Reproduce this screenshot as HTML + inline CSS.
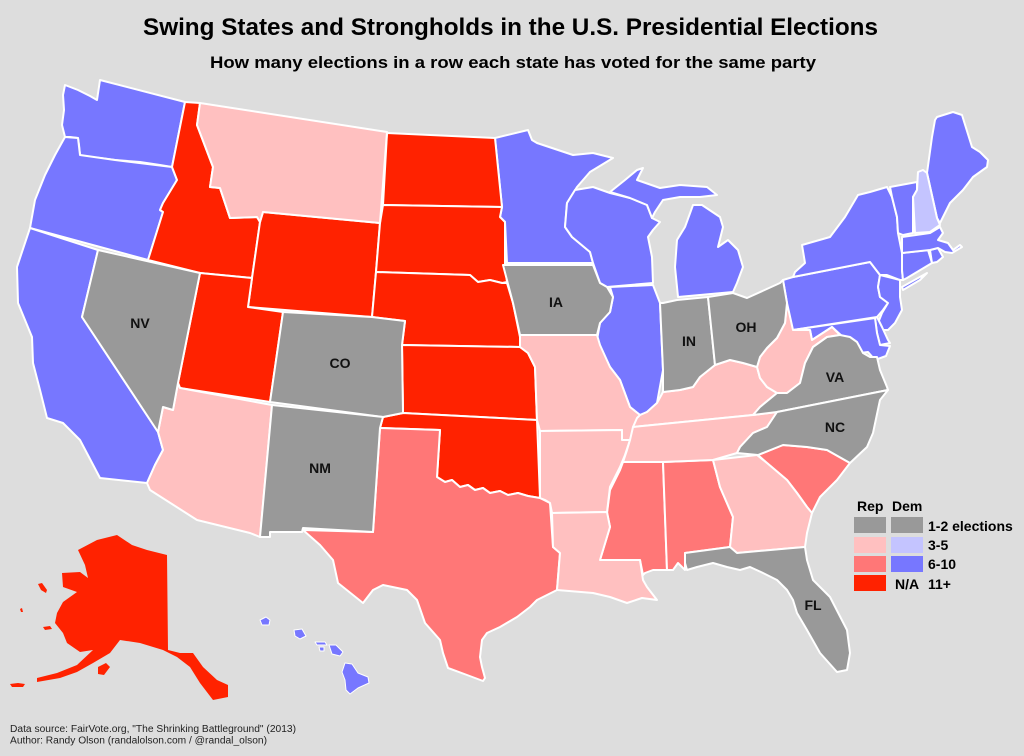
<!DOCTYPE html>
<html><head><meta charset="utf-8"><style>
html,body{margin:0;padding:0;background:#dddddd;}
svg{display:block;}
</style></head><body>
<svg width="1024" height="756" viewBox="0 0 1024 756" xmlns="http://www.w3.org/2000/svg">
<rect x="0" y="0" width="1024" height="756" fill="#dddddd"/>
<text x="143" y="35" font-family="Liberation Sans, Arial, sans-serif" font-weight="bold" font-size="24" textLength="735" lengthAdjust="spacingAndGlyphs" fill="#000">Swing States and Strongholds in the U.S. Presidential Elections</text>
<text x="210" y="68" font-family="Liberation Sans, Arial, sans-serif" font-weight="bold" font-size="17" textLength="606" lengthAdjust="spacingAndGlyphs" fill="#000">How many elections in a row each state has voted for the same party</text>

<g stroke="#ffffff" stroke-width="2" stroke-linejoin="round">
<!-- Blue Dem 6-10 -->
<g fill="#7777ff">
<polygon points="65,85 78,90 90,96 97,100 100,80 185,102 172,167 160,165 140,162 115,160 100,158 85,157 80,155 79,145 78,138 70,137 65,137 62,125 64,110 63,95"/>
<polygon points="65,137 78,138 80,155 115,160 172,167 177,180 163,203 160,210 163,212 148,260 30,228 35,200 45,175 55,155"/>
<polygon points="30,228 98,250 82,317 158,432 163,450 155,465 147,483 100,478 80,440 63,423 47,418 40,390 33,363 32,337 18,303 17,267"/>
<polygon points="495,138 528,130 532,140 537,143 573,155 593,153 613,158 590,172 577,187 567,203 565,227 572,237 590,252 593,263 507,263 505,222 500,217 502,207"/>
<polygon points="575,190 593,187 610,193 630,198 647,205 652,218 660,222 653,230 648,237 652,257 653,283 607,287 600,283 593,263 590,252 572,237 565,227 567,203"/>
<polygon points="610,192 625,180 637,170 643,168 637,180 660,188 680,185 707,187 717,195 700,197 680,197 663,200 655,212 652,218 647,205 630,198"/>
<polygon points="693,205 702,205 720,217 723,227 718,247 728,240 738,250 743,267 737,283 733,292 678,297 675,267 677,240 685,227"/>
<polygon points="610,287 653,285 660,303 663,370 657,403 647,412 640,415 630,407 620,380 610,367 597,340 600,323 610,312 613,297"/>
<polygon points="783,280 793,277 870,262 880,275 878,287 880,297 888,303 883,310 877,317 793,330 787,330 785,320 787,303"/>
<polygon points="887,187 892,197 897,217 898,233 900,243 902,253 902,270 903,280 900,280 887,275 880,275 870,262 793,277 795,272 805,263 802,245 830,237 845,217 858,195 870,192"/>
<polygon points="902,287 927,273 920,280 903,290"/>
<polygon points="880,275 900,280 900,297 902,310 895,323 888,330 880,330 878,323 882,313 888,303 880,297 878,287"/>
<polygon points="877,317 882,327 888,340 890,343 880,345 877,333 875,318"/>
<polygon points="793,330 875,318 877,333 880,345 890,346 886,356 875,360 868,352 860,353 853,343 843,337 832,327 812,340 810,330"/>
<polygon points="902,253 928,250 932,263 907,278 903,280 902,270"/>
<polygon points="930,250 938,248 943,257 937,262 932,263"/>
<polygon points="902,237 930,233 940,227 943,233 938,240 948,243 953,250 960,245 962,247 952,253 945,252 938,248 930,250 902,253"/>
<polygon points="890,187 917,182 917,190 913,197 913,233 903,235 898,233 897,217 892,197"/>
<polygon points="937,117 953,112 962,115 972,147 980,152 988,160 987,167 973,177 963,190 950,203 943,217 940,223 937,218 927,173 932,137 935,120"/>
<!-- Hawaii -->
<polygon points="260,620 266,617 270,620 269,625 262,625" stroke-width="1"/>
<polygon points="294,630 302,629 306,636 300,639 295,636" stroke-width="1"/>
<polygon points="315,642 325,642 327,645 317,645" stroke-width="1"/>
<polygon points="319,647 324,647 324,651 320,651" stroke-width="1"/>
<polygon points="329,645 336,645 343,652 340,656 332,654" stroke-width="1"/>
<polygon points="345,663 352,664 358,673 368,677 369,683 358,688 350,694 346,690 345,680 342,672" stroke-width="1"/>
</g>
<!-- NH light blue -->
<polygon fill="#c4c4ff" points="918,172 923,170 927,173 937,218 940,225 930,232 915,233 913,197 917,190"/>

<!-- Dark red 11+ -->
<g fill="#ff2200">
<polygon points="185,102 200,103 197,125 213,167 210,187 220,188 230,218 257,217 260,222 252,278 200,273 148,260 163,212 160,210 163,203 177,180 172,167"/>
<polygon points="263,212 380,223 376,272 372,317 248,307 252,278 260,222"/>
<polygon points="200,273 252,278 248,307 283,312 270,402 180,388 178,383"/>
<polygon points="387,133 495,138 502,207 383,205"/>
<polygon points="383,205 502,207 500,217 505,222 505,265 507,282 502,283 490,280 478,282 470,275 376,272 380,223"/>
<polygon points="376,272 470,275 478,282 490,280 502,283 507,283 513,303 520,337 520,347 402,345 405,321 372,317"/>
<polygon points="402,345 520,347 528,353 535,367 537,420 403,413"/>
<polygon points="383,417 403,413 537,420 540,498 528,496 518,493 508,495 500,491 490,493 483,488 475,490 468,485 460,487 452,480 445,482 437,477 440,430 380,428"/>
<!-- Alaska -->
<polygon points="78,550 97,540 117,535 132,545 147,550 167,555 168,650 180,653 193,653 203,667 217,680 228,685 228,697 213,700 200,683 190,667 177,657 163,650 140,643 120,640 110,653 93,663 77,672 60,678 37,682 37,678 57,673 77,665 93,650 80,652 67,643 63,633 55,623 57,613 63,602 77,592 63,587 62,573 80,572 88,578 85,565" stroke="none"/>
<polygon points="38,584 42,583 47,590 46,593 41,590" stroke="none"/>
<polygon points="10,684 18,683 25,684 23,687 12,687" stroke="none"/>
<polygon points="98,667 106,663 110,667 104,675 98,674" stroke="none"/>
<polygon points="43,627 50,626 52,629 45,630" stroke="none"/>
<polygon points="20,609 22,608 23,612 21,612" stroke="none"/>
</g>

<!-- Medium red 6-10 -->
<g fill="#ff7777">
<polygon points="380,428 440,430 437,477 445,482 452,480 460,487 468,485 475,490 483,488 490,493 500,491 508,495 518,493 528,496 540,498 550,503 553,547 560,553 557,590 537,600 530,607 517,617 500,627 487,633 482,640 480,657 482,667 485,678 483,681 467,675 448,668 443,653 440,640 425,623 417,600 407,590 383,585 373,590 363,603 338,583 333,560 320,545 303,530 373,532"/>
<polygon points="623,462 663,462 667,570 653,570 645,573 643,575 640,560 600,560 610,527 607,513 610,490 620,470"/>
<polygon points="663,462 713,460 720,487 733,517 730,547 685,553 685,570 678,563 673,570 667,570"/>
<polygon points="758,455 783,445 807,447 827,450 850,463 837,480 820,497 812,513 807,507 797,493 787,480 767,463"/>
</g>

<!-- Light pink 3-5 -->
<g fill="#ffc0c0">
<polygon points="200,103 387,132 380,223 263,212 260,222 257,217 230,218 220,188 210,187 213,167 197,125"/>
<polygon points="180,388 272,405 260,537 250,533 197,520 150,490 147,483 155,465 163,450 158,432 163,407 173,410 178,383"/>
<polygon points="520,335 597,335 600,345 610,367 620,380 630,407 640,415 636,428 630,440 622,440 622,430 540,431 537,420 535,367 528,353 520,347"/>
<polygon points="540,431 622,430 622,440 630,440 625,455 620,467 610,487 607,512 552,513 550,503 545,500 540,498"/>
<polygon points="552,513 607,512 610,527 600,560 640,560 643,580 647,587 657,600 642,598 627,603 610,597 593,593 557,590 560,553 553,547"/>
<polygon points="633,427 637,418 640,415 647,412 657,403 663,392 680,390 693,387 700,377 715,365 730,360 743,363 757,367 760,378 767,387 777,393 760,407 753,415"/>
<polygon points="633,427 753,415 777,412 767,427 753,433 740,447 737,453 713,460 663,462 623,462 627,450 630,440"/>
<polygon points="787,303 793,330 810,330 812,340 832,327 840,335 827,337 820,342 813,347 805,363 800,383 787,393 777,393 767,387 760,378 757,367 760,357 767,348 777,338 785,323"/>
<polygon points="713,460 757,455 767,463 787,480 797,493 807,507 812,513 807,533 805,547 793,548 737,553 730,547 733,517 720,487"/>
</g>

<!-- Gray swing -->
<g fill="#999999">
<polygon points="98,250 200,273 178,383 173,410 163,407 158,432 82,317"/>
<polygon points="283,312 372,317 405,321 402,345 403,413 383,417 270,402"/>
<polygon points="272,405 383,417 380,428 373,532 303,528 302,532 270,532 270,537 260,537"/>
<polygon points="503,265 593,265 600,283 607,287 613,297 610,312 600,323 597,335 520,335 513,303"/>
<polygon points="663,303 677,300 708,297 715,365 700,377 693,387 680,390 663,392 663,370 660,303"/>
<polygon points="708,297 733,293 747,298 780,283 783,280 787,303 785,323 777,338 767,348 760,357 757,367 743,363 730,360 715,365"/>
<polygon points="753,415 760,407 777,393 787,393 800,383 805,363 813,347 820,342 827,337 840,335 850,337 857,342 863,353 870,357 877,357 880,370 887,387 888,390 777,412"/>
<polygon points="777,412 888,390 880,400 873,433 867,447 850,463 827,450 807,447 783,445 758,455 737,453 740,447 753,433 767,427"/>
<polygon points="685,553 730,547 737,553 793,548 805,547 807,560 813,580 830,597 847,630 850,653 847,670 837,672 820,653 807,630 797,613 793,600 787,590 777,580 763,573 750,567 740,570 727,567 713,563 697,567 687,570 685,563"/>
</g>
</g>

<g font-family="Liberation Sans, Arial, sans-serif" font-weight="bold" font-size="14" fill="#111" text-anchor="middle">
<text x="140" y="328">NV</text>
<text x="340" y="368">CO</text>
<text x="320" y="473">NM</text>
<text x="556" y="307">IA</text>
<text x="689" y="346">IN</text>
<text x="746" y="332">OH</text>
<text x="835" y="382">VA</text>
<text x="835" y="432">NC</text>
<text x="813" y="610">FL</text>
</g>

<!-- Legend -->
<g font-family="Liberation Sans, Arial, sans-serif" font-weight="bold" font-size="14" fill="#000">
<text x="857" y="511">Rep</text>
<text x="892" y="511">Dem</text>
<rect x="854" y="517" width="32" height="16" fill="#999999"/>
<rect x="891" y="517" width="32" height="16" fill="#999999"/>
<rect x="854" y="537" width="32" height="16" fill="#ffc0c0"/>
<rect x="891" y="537" width="32" height="16" fill="#c4c4ff"/>
<rect x="854" y="556" width="32" height="16" fill="#ff7777"/>
<rect x="891" y="556" width="32" height="16" fill="#7777ff"/>
<rect x="854" y="575" width="32" height="16" fill="#ff2200"/>
<text x="928" y="531">1-2 elections</text>
<text x="928" y="550">3-5</text>
<text x="928" y="569">6-10</text>
<text x="895" y="589">N/A</text>
<text x="928" y="589">11+</text>
</g>

<g font-family="Liberation Sans, Arial, sans-serif" font-size="10" fill="#222">
<text x="10" y="732" textLength="286" lengthAdjust="spacingAndGlyphs">Data source: FairVote.org, "The Shrinking Battleground" (2013)</text>
<text x="10" y="743.5" textLength="257" lengthAdjust="spacingAndGlyphs">Author: Randy Olson (randalolson.com / @randal_olson)</text>
</g>
</svg>
</body></html>
